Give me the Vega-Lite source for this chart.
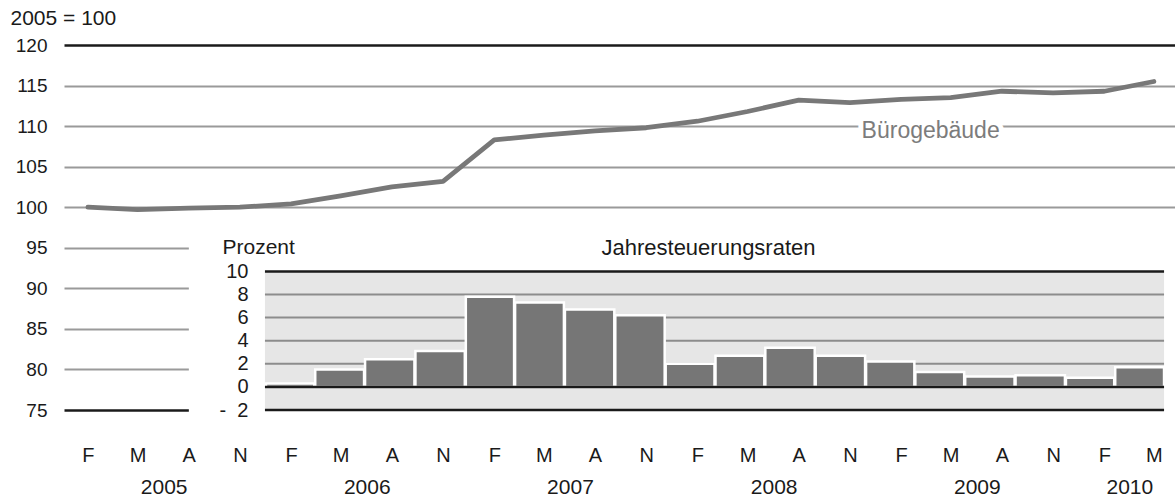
{
  "$schema": "https://vega.github.io/schema/vega-lite/v6.json",
  "width": 1111,
  "height": 365,
  "autosize": {"type": "none"},
  "padding": {"left": 64, "top": 45, "right": 0, "bottom": 90},
  "background": "white",
  "config": {
    "view": {"stroke": null},
    "font": "Liberation Sans",
    "axis": {"labelFont": "Liberation Sans", "titleFont": "Liberation Sans", "labelColor": "#1a1a1a", "titleColor": "#1a1a1a", "titleFontWeight": "normal"}
  },
  "datasets": {
    "index": [
      {"date": "2005-02-15", "value": 100.0},
      {"date": "2005-05-15", "value": 99.7},
      {"date": "2005-08-15", "value": 99.9},
      {"date": "2005-11-15", "value": 100.0},
      {"date": "2006-02-15", "value": 100.4},
      {"date": "2006-05-15", "value": 101.4},
      {"date": "2006-08-15", "value": 102.5},
      {"date": "2006-11-15", "value": 103.2},
      {"date": "2007-02-15", "value": 108.3},
      {"date": "2007-05-15", "value": 108.9},
      {"date": "2007-08-15", "value": 109.4},
      {"date": "2007-11-15", "value": 109.8},
      {"date": "2008-02-15", "value": 110.6},
      {"date": "2008-05-15", "value": 111.8},
      {"date": "2008-08-15", "value": 113.2},
      {"date": "2008-11-15", "value": 112.9},
      {"date": "2009-02-15", "value": 113.3},
      {"date": "2009-05-15", "value": 113.5},
      {"date": "2009-08-15", "value": 114.3},
      {"date": "2009-11-15", "value": 114.1},
      {"date": "2010-02-15", "value": 114.3},
      {"date": "2010-05-15", "value": 115.5}
    ],
    "rates": [
      {"date": "2006-02-15", "rate": 0.3},
      {"date": "2006-05-15", "rate": 1.5},
      {"date": "2006-08-15", "rate": 2.4},
      {"date": "2006-11-15", "rate": 3.1},
      {"date": "2007-02-15", "rate": 7.8},
      {"date": "2007-05-15", "rate": 7.3},
      {"date": "2007-08-15", "rate": 6.7},
      {"date": "2007-11-15", "rate": 6.2},
      {"date": "2008-02-15", "rate": 2.0},
      {"date": "2008-05-15", "rate": 2.7},
      {"date": "2008-08-15", "rate": 3.4},
      {"date": "2008-11-15", "rate": 2.7},
      {"date": "2009-02-15", "rate": 2.2},
      {"date": "2009-05-15", "rate": 1.3},
      {"date": "2009-08-15", "rate": 0.9},
      {"date": "2009-11-15", "rate": 1.0},
      {"date": "2010-02-15", "rate": 0.8},
      {"date": "2010-05-15", "rate": 1.7}
    ],
    "label": [
      {"date": "2009-04-09", "value": 108.5, "label": "Bürogebäude"}
    ],
    "gridGray": [{"v": 2}, {"v": 4}, {"v": 6}, {"v": 8}],
    "gridBlack": [{"v": -2}, {"v": 0}, {"v": 10}]
  },
  "layer": [
    {
      "layer": [
        {
          "data": {"name": "index"},
          "mark": {"type": "line", "color": "#787878", "strokeWidth": 4.8, "strokeCap": "round", "strokeJoin": "round"},
          "encoding": {
            "x": {
              "field": "date", "type": "temporal",
              "scale": {"domain": [{"year": 2005, "month": 1, "date": 3}, {"year": 2010, "month": 6, "date": 22}], "nice": false},
              "axis": {
                "orient": "bottom", "title": null, "grid": false, "domain": false, "ticks": false, "tickSize": 0,
                "labelPadding": 35, "labelFontSize": 20, "labelAngle": 0,
                "values": [
                  {"year": 2005, "month": 2, "date": 15}, {"year": 2005, "month": 5, "date": 15}, {"year": 2005, "month": 8, "date": 15}, {"year": 2005, "month": 11, "date": 15},
                  {"year": 2006, "month": 2, "date": 15}, {"year": 2006, "month": 5, "date": 15}, {"year": 2006, "month": 8, "date": 15}, {"year": 2006, "month": 11, "date": 15},
                  {"year": 2007, "month": 2, "date": 15}, {"year": 2007, "month": 5, "date": 15}, {"year": 2007, "month": 8, "date": 15}, {"year": 2007, "month": 11, "date": 15},
                  {"year": 2008, "month": 2, "date": 15}, {"year": 2008, "month": 5, "date": 15}, {"year": 2008, "month": 8, "date": 15}, {"year": 2008, "month": 11, "date": 15},
                  {"year": 2009, "month": 2, "date": 15}, {"year": 2009, "month": 5, "date": 15}, {"year": 2009, "month": 8, "date": 15}, {"year": 2009, "month": 11, "date": 15},
                  {"year": 2010, "month": 2, "date": 15}, {"year": 2010, "month": 5, "date": 15}
                ],
                "labelExpr": "['J','F','M','A','M','J','J','A','S','O','N','D'][month(datum.value)]"
              }
            },
            "y": {
              "field": "value", "type": "quantitative",
              "scale": {"domain": [75, 120], "nice": false, "zero": false},
              "axis": {
                "orient": "left", "values": [75, 80, 85, 90, 95, 100, 105, 110, 115, 120],
                "domain": false, "ticks": false, "tickSize": 0, "labelPadding": 17, "labelFontSize": 19,
                "grid": true,
                "gridColor": {"condition": {"test": "datum.value === 75 || datum.value === 120", "value": "#1a1a1a"}, "value": "#9a9a9a"},
                "gridWidth": {"condition": {"test": "datum.value === 75 || datum.value === 120", "value": 2.5}, "value": 2},
                "title": "2005 = 100", "titleAngle": 0, "titleAlign": "left", "titleBaseline": "alphabetic",
                "titleX": -54, "titleY": -21, "titleFontSize": 21
              }
            }
          }
        },
        {
          "data": {"name": "label"},
          "mark": {"type": "text", "fill": "white", "stroke": "white", "strokeWidth": 10, "fontSize": 23, "font": "Liberation Sans", "align": "center", "baseline": "alphabetic"},
          "encoding": {
            "x": {
              "field": "date", "type": "temporal",
              "scale": {"domain": [{"year": 2005, "month": 1, "date": 3}, {"year": 2010, "month": 6, "date": 22}], "nice": false},
              "axis": {
                "orient": "bottom", "title": null, "grid": false, "domain": false, "ticks": false, "tickSize": 0,
                "labelPadding": 66, "labelFontSize": 21, "labelAngle": 0,
                "values": [
                  {"year": 2005, "month": 7, "date": 1}, {"year": 2006, "month": 7, "date": 1}, {"year": 2007, "month": 7, "date": 1},
                  {"year": 2008, "month": 7, "date": 1}, {"year": 2009, "month": 7, "date": 1}, {"year": 2010, "month": 4, "date": 1}
                ],
                "labelExpr": "timeFormat(datum.value, '%Y')"
              }
            },
            "y": {"field": "value", "type": "quantitative", "scale": {"domain": [75, 120], "nice": false, "zero": false}, "axis": null},
            "text": {"field": "label"}
          }
        },
        {
          "data": {"name": "label"},
          "mark": {"type": "text", "fill": "#7c7c7c", "fontSize": 23, "font": "Liberation Sans", "align": "center", "baseline": "alphabetic"},
          "encoding": {
            "x": {"field": "date", "type": "temporal", "scale": {"domain": [{"year": 2005, "month": 1, "date": 3}, {"year": 2010, "month": 6, "date": 22}], "nice": false}, "axis": null},
            "y": {"field": "value", "type": "quantitative", "scale": {"domain": [75, 120], "nice": false, "zero": false}, "axis": null},
            "text": {"field": "label"}
          }
        }
      ],
      "resolve": {"axis": {"x": "independent", "y": "independent"}}
    },
    {
      "layer": [
        {
          "data": {"values": [{}]},
          "mark": {"type": "rect", "fill": "white"},
          "encoding": {
            "x": {"datum": {"year": 2005, "month": 8, "date": 15}, "type": "temporal", "scale": {"domain": [{"year": 2004, "month": 12, "date": 30}, {"year": 2010, "month": 7, "date": 21}], "nice": false}, "axis": null},
            "x2": {"datum": {"year": 2010, "month": 7, "date": 21}},
            "y": {"datum": -2.3, "type": "quantitative", "scale": {"domain": [-2, 29.6], "nice": false, "zero": false}, "axis": null},
            "y2": {"datum": 14}
          }
        },
        {
          "data": {"values": [{}]},
          "mark": {"type": "rect", "fill": "#e6e6e6"},
          "encoding": {
            "x": {"datum": {"year": 2006, "month": 1, "date": 1}, "type": "temporal", "scale": {"domain": [{"year": 2004, "month": 12, "date": 30}, {"year": 2010, "month": 7, "date": 21}], "nice": false}, "axis": null},
            "x2": {"datum": {"year": 2010, "month": 7, "date": 1}},
            "y": {"datum": -2, "type": "quantitative", "scale": {"domain": [-2, 29.6], "nice": false, "zero": false}, "axis": null},
            "y2": {"datum": 10}
          }
        },
        {
          "data": {"name": "gridGray"},
          "mark": {"type": "rule", "color": "#8c8c8c", "strokeWidth": 2},
          "encoding": {
            "x": {"datum": {"year": 2006, "month": 1, "date": 1}, "type": "temporal", "scale": {"domain": [{"year": 2004, "month": 12, "date": 30}, {"year": 2010, "month": 7, "date": 21}], "nice": false}, "axis": null},
            "x2": {"datum": {"year": 2010, "month": 7, "date": 1}},
            "y": {"field": "v", "type": "quantitative", "scale": {"domain": [-2, 29.6], "nice": false, "zero": false}, "axis": null}
          }
        },
        {
          "data": {"name": "rates"},
          "mark": {"type": "bar", "fill": "#767676", "stroke": "white", "strokeWidth": 2.5},
          "encoding": {
            "x": {
              "field": "date", "timeUnit": "yearquarter", "type": "temporal",
              "scale": {"domain": [{"year": 2004, "month": 12, "date": 30}, {"year": 2010, "month": 7, "date": 21}], "nice": false},
              "axis": {
                "orient": "top", "offset": -228, "labels": false, "ticks": false, "domain": false, "grid": false,
                "zindex": 1,
                "title": "Jahresteuerungsraten", "titleFontSize": 22, "titleX": 644, "titleY": -19,
                "titleAlign": "center", "titleBaseline": "alphabetic", "titleAngle": 0
              }
            },
            "y": {
              "field": "rate", "type": "quantitative",
              "scale": {"domain": [-2, 29.6], "nice": false, "zero": false},
              "axis": {
                "orient": "left", "offset": -200, "values": [-2, 0, 2, 4, 6, 8, 10],
                "domain": false, "ticks": false, "tickSize": 0, "grid": false, "labelPadding": 16, "labelFontSize": 20,
                "labelExpr": "datum.value < 0 ? '-\u00a0\u00a02' : datum.label",
                "labelOverlap": false,
                "zindex": 1,
                "title": "Prozent", "titleAngle": 0, "titleAlign": "left", "titleBaseline": "alphabetic",
                "titleX": -42, "titleY": 208, "titleFontSize": 21
              }
            }
          }
        },
        {
          "data": {"name": "gridBlack"},
          "mark": {"type": "rule", "color": "#1a1a1a", "strokeWidth": 2.5},
          "encoding": {
            "x": {"datum": {"year": 2006, "month": 1, "date": 1}, "type": "temporal", "scale": {"domain": [{"year": 2004, "month": 12, "date": 30}, {"year": 2010, "month": 7, "date": 21}], "nice": false}, "axis": null},
            "x2": {"datum": {"year": 2010, "month": 7, "date": 1}},
            "y": {"field": "v", "type": "quantitative", "scale": {"domain": [-2, 29.6], "nice": false, "zero": false}, "axis": null}
          }
        }
      ],
      "resolve": {"axis": {"x": "independent", "y": "independent"}}
    }
  ],
  "resolve": {"scale": {"x": "independent", "y": "independent"}}
}
